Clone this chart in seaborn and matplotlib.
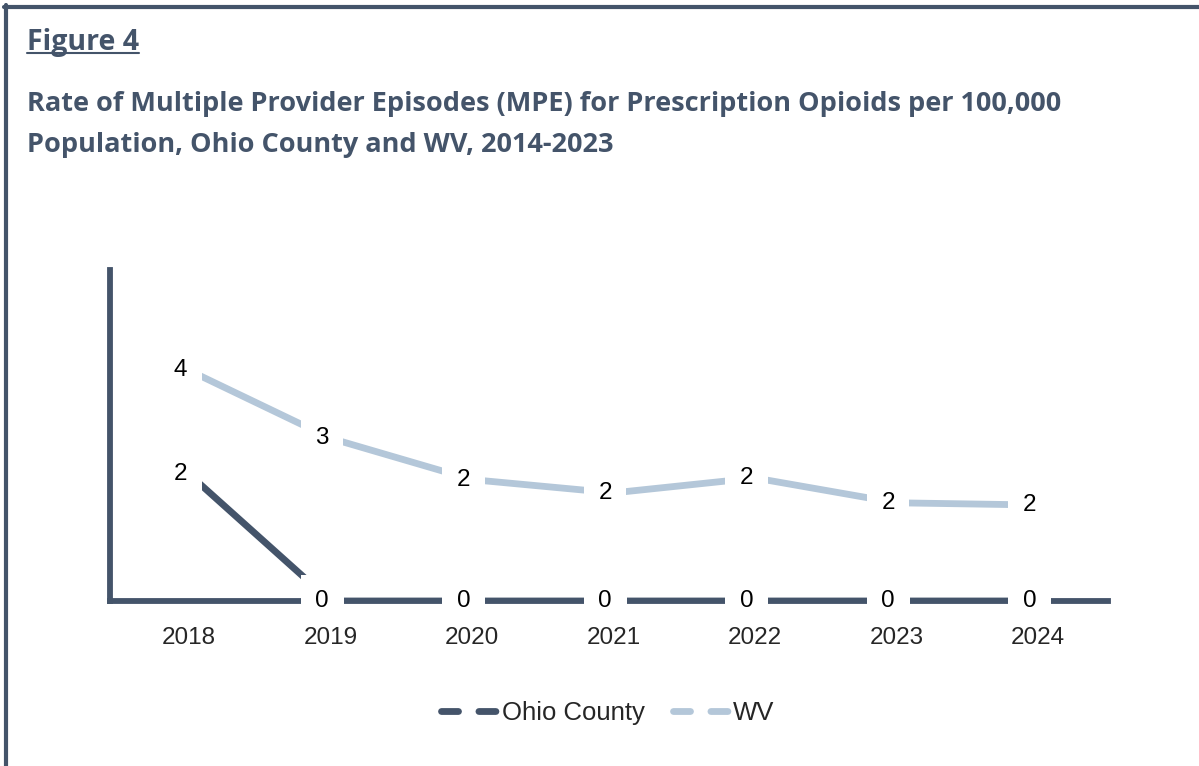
import pandas as pd
import numpy as np
import matplotlib.pyplot as plt
import seaborn as sns
from matplotlib.lines import Line2D

# Data
years = [2018, 2019, 2020, 2021, 2022, 2023, 2024]
ohio_county = [2.3, 0, 0, 0, 0, 0, 0]
wv = [4.18, 2.95, 2.2, 1.96, 2.23, 1.78, 1.74]
series_names = ['Ohio County', 'WV']

dark = '#44546A'
light = '#B4C7D9'

df = pd.DataFrame({
    'year': years * 2,
    'rate': ohio_county + wv,
    'series': [series_names[0]] * len(years) + [series_names[1]] * len(years),
})

sns.set_style('white')
plt.rcParams['font.family'] = ['Liberation Sans', 'DejaVu Sans']

fig = plt.figure(figsize=(11.99, 7.66), dpi=100)
ax = fig.add_axes([110 / 1199, 1 - 601 / 766, (1108 - 110) / 1199, (601 - 270) / 766])

sns.lineplot(data=df, x='year', y='rate', hue='series', palette=[dark, light],
             linewidth=4.9, ax=ax, legend=False, zorder=3)
for ln in ax.lines:
    ln.set_solid_capstyle('butt')

# data labels with white boxes that break the lines
for vals in [ohio_county, wv]:
    for x, v in zip(years, vals):
        ax.annotate(f'{v:.0f}', (x, v), xytext=(-6, 0), textcoords='offset points',
                    ha='center', va='center', fontsize=17.5, color='black', zorder=5,
                    bbox=dict(boxstyle='square,pad=0.6', fc='white', ec='none'))

ax.set_xlim(2017.442, 2024.495)
ax.set_ylim(0, 6)
ax.set_xticks(years)
ax.set_xticklabels([str(y) for y in years], fontsize=17.5)
ax.set_yticks([])
ax.tick_params(axis='x', length=0, pad=19)
ax.xaxis.set_zorder(6)
ax.set_xlabel('')
ax.set_ylabel('')
for s in ['top', 'right']:
    ax.spines[s].set_visible(False)
for s in ['left', 'bottom']:
    ax.spines[s].set_color(dark)
    ax.spines[s].set_linewidth(4.2)
    ax.spines[s].set_zorder(2)

# legend
handles = [Line2D([], [], color=c, lw=4.9, dashes=(2.5, 3.0), dash_capstyle='round')
           for c in [dark, light]]
fig.legend(handles, series_names, loc='center', bbox_to_anchor=(608 / 1199, 1 - 713 / 766), ncol=2,
           frameon=False, fontsize=18.5, handlelength=2.2, handletextpad=0.15, columnspacing=1.1)

# titles
title_font = ['Open Sans', 'DejaVu Sans']
t1 = fig.text(27 / 1199, 1 - 50 / 766, 'Figure 4', fontsize=20.5, fontweight='bold',
              color=dark, family=title_font, va='baseline')
fig.text(27 / 1199, 1 - 111 / 766,
         'Rate of Multiple Provider Episodes (MPE) for Prescription Opioids per 100,000',
         fontsize=19.5, fontweight='bold', color=dark, family=title_font, va='baseline')
fig.text(27 / 1199, 1 - 152 / 766, 'Population, Ohio County and WV, 2014-2023',
         fontsize=19.5, fontweight='bold', color=dark, family=title_font, va='baseline')

fig.canvas.draw()
bb = t1.get_window_extent(fig.canvas.get_renderer())
fig.add_artist(Line2D([bb.x0 / fig.bbox.width, bb.x1 / fig.bbox.width],
                      [1 - 53 / 766, 1 - 53 / 766], color=dark, lw=1.5))

# frame (top and left edges)
fig.add_artist(Line2D([4 / 1199, 1], [1 - 7 / 766, 1 - 7 / 766], color=dark, lw=3))
fig.add_artist(Line2D([6 / 1199, 6 / 1199], [0, 1 - 5 / 766], color=dark, lw=3))

fig.savefig('out.png', dpi=100)
